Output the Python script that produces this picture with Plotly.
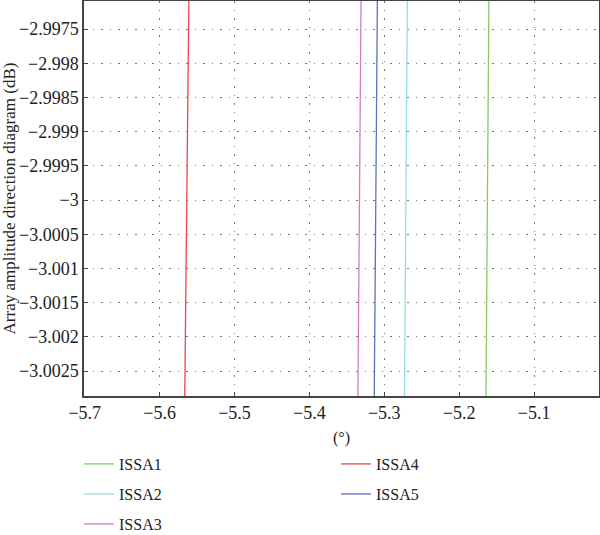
import plotly.graph_objects as go

# Data (each curve is nearly vertical within the zoomed window)
series_names = ["ISSA1", "ISSA2", "ISSA3", "ISSA4", "ISSA5"]
y_values = [-2.9970, -3.0030]
x_issa1 = [-5.1603, -5.1643]
x_issa2 = [-5.2692, -5.2731]
x_issa3 = [-5.3310, -5.3353]
x_issa4 = [-5.5609, -5.5666]
x_issa5 = [-5.3092, -5.3135]
colors = ["#7fcf60", "#93dde6", "#d47cc4", "#f0464e", "#5e70c0"]

x_ticks = [-5.7, -5.6, -5.5, -5.4, -5.3, -5.2, -5.1]
x_tick_labels = ["\u22125.7", "\u22125.6", "\u22125.5", "\u22125.4", "\u22125.3", "\u22125.2", "\u22125.1"]
y_ticks = [-2.9975, -2.998, -2.9985, -2.999, -2.9995, -3.0, -3.0005, -3.001, -3.0015, -3.002, -3.0025]
y_tick_labels = ["\u22122.9975", "\u22122.998", "\u22122.9985", "\u22122.999", "\u22122.9995", "\u22123",
                 "\u22123.0005", "\u22123.001", "\u22123.0015", "\u22123.002", "\u22123.0025"]

xs = [x_issa1, x_issa2, x_issa3, x_issa4, x_issa5]
legend_ids = ["legend", "legend2", "legend3", "legend4", "legend5"]
# legend entry anchor positions (container fractions)
legend_x = [0.1317, 0.1317, 0.1317, 0.56, 0.56]
legend_y = [0.1327, 0.0766, 0.0206, 0.1327, 0.0766]

FONT = "Liberation Serif"

fig = go.Figure()
for name, x, c, lg in zip(series_names, xs, colors, legend_ids):
    fig.add_trace(go.Scatter(x=x, y=y_values, mode="lines", name=name,
                             line=dict(color=c, width=1.3), legend=lg))

axis_common = dict(
    showline=True, linecolor="#444444", linewidth=1.5, mirror=True,
    showgrid=True, gridcolor="#777777", griddash="1.5px,7px", gridwidth=1,
    ticks="inside", ticklen=4, tickcolor="#444444",
    zeroline=False, automargin=False,
    tickfont=dict(family=FONT, size=18, color="#222222"),
)

layout_legends = {}
for lg, lx, ly in zip(legend_ids, legend_x, legend_y):
    layout_legends[lg] = dict(xref="container", yref="container", x=lx, y=ly,
                              xanchor="left", yanchor="middle", orientation="h",
                              itemwidth=30, bgcolor="rgba(0,0,0,0)",
                              font=dict(family=FONT, size=16, color="#222222"))

fig.update_layout(
    width=600, height=535,
    margin=dict(l=84, r=1, t=1, b=139),
    paper_bgcolor="white", plot_bgcolor="white",
    font=dict(family=FONT, size=16, color="#222222"),
    xaxis=dict(range=[-5.701, -5.0133], tickvals=x_ticks, ticktext=x_tick_labels,
               title=dict(text="(\u00b0)", font=dict(family=FONT, size=16), standoff=16),
               **axis_common),
    yaxis=dict(range=[-3.002864, -2.99709], tickvals=y_ticks, ticktext=y_tick_labels,
               title=dict(text="Array amplitude direction diagram (dB)", font=dict(family=FONT, size=17), standoff=4),
               **axis_common),
    showlegend=True,
    **layout_legends,
)

fig.write_html("out.html", config={"displayModeBar": False},
               post_script="document.body.style.margin='0';")
